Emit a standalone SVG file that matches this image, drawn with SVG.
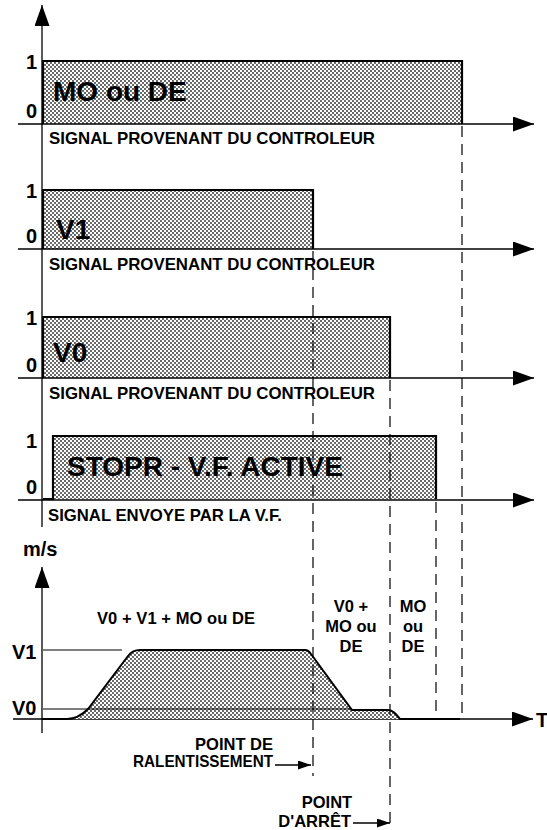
<svg xmlns="http://www.w3.org/2000/svg" width="547" height="830" viewBox="0 0 547 830">
<style>
text{font-family:"Liberation Sans",Arial,sans-serif;font-weight:bold;fill:#000}
.ax{stroke:#000;stroke-width:1.3;fill:none}
.box{stroke:#000;stroke-width:2.2;fill:url(#dots)}
.dash{stroke:#000;stroke-width:1.2;stroke-dasharray:11 7;fill:none}
.lvl{stroke:#000;stroke-width:1.2;fill:none}
.big{font-size:28px}
.sig{font-size:16.5px}
.num{font-size:20px}
.lab{font-size:16.5px}
.mid{font-size:16.5px}
</style>
<defs>
<pattern id="dots" width="4" height="4" patternUnits="userSpaceOnUse">
<rect width="4" height="4" fill="#fff"/>
<circle cx="1" cy="1" r="0.9" fill="#222"/>
<circle cx="3" cy="3" r="0.9" fill="#222"/>
</pattern>
<marker id="ah" markerUnits="userSpaceOnUse" markerWidth="22" markerHeight="16" refX="21" refY="7.5" orient="auto">
<path d="M0,0 L21,7.5 L0,15 z" fill="#000"/>
</marker>
<marker id="sa" markerUnits="userSpaceOnUse" markerWidth="14" markerHeight="10" refX="13" refY="4.5" orient="auto">
<path d="M0,0 L13,4.5 L0,9 z" fill="#000"/>
</marker>
</defs>

<g id="axis-main">
<line class="ax" x1="42" y1="527" x2="42" y2="5" marker-end="url(#ah)"/>
</g>

<g id="panel-mo-de">
<path class="box" d="M43,124 L43,61 L462,61 L462,124"/>
<line class="ax" x1="18" y1="124" x2="534" y2="124" marker-end="url(#ah)"/>
<text class="num" x="26" y="69">1</text>
<text class="num" x="26" y="118">0</text>
<text class="big" x="53" y="101">MO ou DE</text>
<text class="sig" x="49" y="144" textLength="326" lengthAdjust="spacingAndGlyphs">SIGNAL PROVENANT DU CONTROLEUR</text>
</g>

<g id="panel-v1">
<path class="box" d="M43,249 L43,190 L313,190 L313,249"/>
<line class="ax" x1="18" y1="249" x2="534" y2="249" marker-end="url(#ah)"/>
<text class="num" x="26" y="198">1</text>
<text class="num" x="26" y="243">0</text>
<text class="big" x="56" y="239">V1</text>
<text class="sig" x="49" y="270" textLength="326" lengthAdjust="spacingAndGlyphs">SIGNAL PROVENANT DU CONTROLEUR</text>
</g>

<g id="panel-v0">
<path class="box" d="M43,378 L43,317 L390,317 L390,378"/>
<line class="ax" x1="18" y1="378" x2="534" y2="378" marker-end="url(#ah)"/>
<text class="num" x="26" y="325">1</text>
<text class="num" x="26" y="372">0</text>
<text class="big" x="53" y="362">V0</text>
<text class="sig" x="49" y="399" textLength="326" lengthAdjust="spacingAndGlyphs">SIGNAL PROVENANT DU CONTROLEUR</text>
</g>

<g id="panel-stopr">
<path class="box" d="M43,499 L53,499 L53,436 L436,436 L436,499"/>
<line class="ax" x1="18" y1="500" x2="534" y2="500" marker-end="url(#ah)"/>
<text class="num" x="26" y="448">1</text>
<text class="num" x="26" y="494">0</text>
<text class="big" x="67" y="476">STOPR - V.F. ACTIVE</text>
<text class="sig" x="48" y="521" textLength="234" lengthAdjust="spacingAndGlyphs">SIGNAL ENVOYE PAR LA V.F.</text>
</g>

<g id="speed-graph">
<line class="ax" x1="42" y1="733" x2="42" y2="567" marker-end="url(#ah)"/>
<line class="ax" x1="13" y1="719" x2="533" y2="719" marker-end="url(#ah)"/>
<text class="num" x="23" y="556">m/s</text>
<text class="num" x="536" y="727">T</text>
<path d="M67,719 C76,719 82,715 88,709 L128,656 C132,651 135,650 140,650 L305,650 C308,650 309,651 311,654 L352,710 L388,710 C393,710 396,714 400,719 Z" fill="url(#dots)" stroke="none"/>
<line class="lvl" x1="43" y1="650" x2="122" y2="650"/>
<line class="lvl" x1="43" y1="709" x2="352" y2="709"/>
<path d="M42,719 L67,719 C76,719 82,715 88,709 L128,656 C132,651 135,650 140,650 L305,650 C308,650 309,651 311,654 L352,710 L388,710 C393,710 396,714 400,719 L460,719" fill="none" stroke="#000" stroke-width="2"/>
<text class="num" x="12" y="659">V1</text>
<text class="num" x="12" y="715">V0</text>
<text class="mid" x="97" y="624" textLength="158" lengthAdjust="spacing">V0 + V1 + MO ou DE</text>
<text class="mid" x="351" y="612" text-anchor="middle">V0 +</text>
<text class="mid" x="351" y="632" text-anchor="middle">MO ou</text>
<text class="mid" x="351" y="652" text-anchor="middle">DE</text>
<text class="mid" x="413" y="612" text-anchor="middle">MO</text>
<text class="mid" x="413" y="632" text-anchor="middle">ou</text>
<text class="mid" x="413" y="652" text-anchor="middle">DE</text>
</g>

<g id="label-ralentissement">
<text class="lab" x="273" y="750" text-anchor="end">POINT DE</text>
<text class="lab" x="133" y="767" textLength="140" lengthAdjust="spacingAndGlyphs">RALENTISSEMENT</text>
</g>

<g id="label-arret">
<text class="lab" x="327" y="808" text-anchor="middle">POINT</text>
<text class="lab" x="351" y="827" text-anchor="end">D'ARRÊT</text>
</g>

<g id="connectors">
<line class="dash" x1="462" y1="126" x2="462" y2="718"/>
<line class="dash" x1="313" y1="251" x2="313" y2="776"/>
<line class="dash" x1="390" y1="380" x2="390" y2="830"/>
<line class="dash" x1="436" y1="502" x2="436" y2="718"/>
<line stroke="#000" stroke-width="1.3" x1="275" y1="765" x2="311" y2="765" marker-end="url(#sa)"/>
<line stroke="#000" stroke-width="1.3" x1="353" y1="823" x2="390" y2="823" marker-end="url(#sa)"/>
</g>
</svg>
